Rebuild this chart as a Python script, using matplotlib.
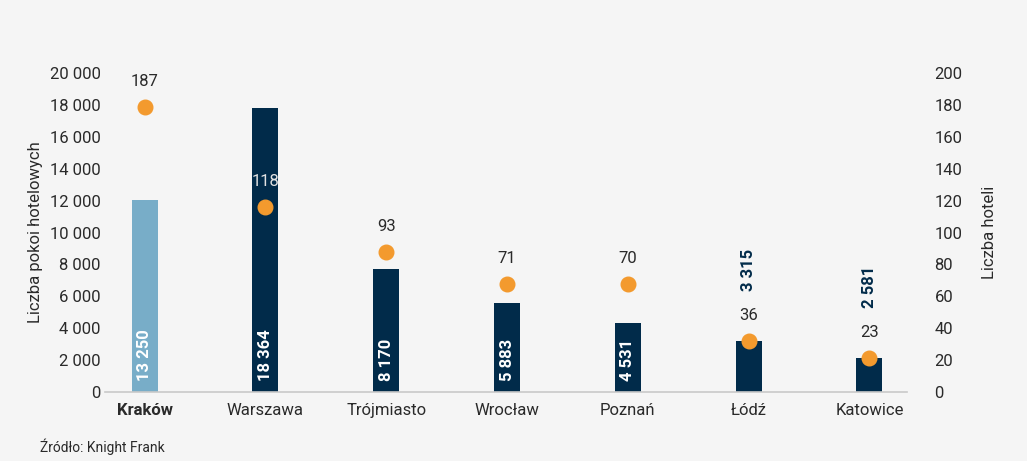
import numpy as np
import matplotlib
matplotlib.use("Agg")
import matplotlib.pyplot as plt
from matplotlib.ticker import FuncFormatter

plt.rcParams["font.family"] = ["Roboto", "DejaVu Sans"]

cities = ["Kraków", "Warszawa", "Trójmiasto", "Wrocław", "Poznań", "Łódź", "Katowice"]
room_bars = [12050, 17800, 7700, 5600, 4330, 3200, 2150]
room_labels = ["13 250", "18 364", "8 170", "5 883", "4 531", "3 315", "2 581"]
hotel_points = [179, 116, 88, 68, 68, 32, 21.5]
hotel_labels = ["187", "118", "93", "71", "70", "36", "23"]

NAVY = "#012b4a"
LIGHT_BLUE = "#78adc8"
ORANGE = "#f39a2e"
BG = "#f5f5f5"
TEXT = "#2a2a2a"

fig = plt.figure(figsize=(10.27, 4.61), dpi=100, facecolor=BG)
ax = fig.add_axes([0.102, 0.1497, 0.781, 0.6919])
ax.set_facecolor("none")
ax2 = ax.twinx()

x = np.arange(len(cities))
colors = [LIGHT_BLUE] + [NAVY] * (len(cities) - 1)
ax.bar(x, room_bars, width=0.215, color=colors, zorder=2)

ax.set_ylim(0, 20000)
ax.set_yticks(np.arange(0, 20001, 2000))
ax.yaxis.set_major_formatter(FuncFormatter(lambda v, _: f"{v:,.0f}".replace(",", " ")))
ax.set_xlim(-0.33, 6.31)
ax.set_xticks(x)
ax.set_xticklabels(cities)
ax.get_xticklabels()[0].set_fontweight("bold")
ax.tick_params(axis="y", length=0, pad=3, labelsize=12, labelcolor=TEXT)
ax.tick_params(axis="x", length=0, pad=8, labelsize=12, labelcolor=TEXT)
ax.set_ylabel("Liczba pokoi hotelowych", fontsize=12, color=TEXT, labelpad=5)

for s in ["top", "left", "right"]:
    ax.spines[s].set_visible(False)
ax.spines["bottom"].set_color("#c9c9c9")
ax.spines["bottom"].set_linewidth(1.2)

# bar value labels: inside the bar when it is tall enough, above it otherwise
for xi, h, lab in zip(x, room_bars, room_labels):
    if h > 3500:
        ax.annotate(lab, (xi, 0), xytext=(0, 8), textcoords="offset points",
                    rotation=90, ha="center", va="bottom", color="white",
                    fontsize=12, fontweight="bold", zorder=3)
    else:
        ax.annotate(lab, (xi, h), xytext=(0, 36), textcoords="offset points",
                    rotation=90, ha="center", va="bottom", color=NAVY,
                    fontsize=12, fontweight="bold", zorder=3)

ax2.set_ylim(0, 200)
ax2.set_yticks(np.arange(0, 201, 20))
ax2.plot(x, hotel_points, linestyle="none", marker="o", markersize=10.5,
         color=ORANGE, zorder=4)
for xi, v, lab in zip(x, hotel_points, hotel_labels):
    col = "#e2e2e2" if lab == "118" else TEXT
    ax2.annotate(lab, (xi, v), xytext=(0, 18), textcoords="offset points",
                 ha="center", va="center", color=col, fontsize=12)
ax2.tick_params(axis="y", length=0, pad=20, labelsize=12, labelcolor=TEXT)
ax2.set_ylabel("Liczba hoteli", fontsize=12, color=TEXT, labelpad=14)
for s in ["top", "left", "right", "bottom"]:
    ax2.spines[s].set_visible(False)

fig.text(0.039, 0.03, "Źródło: Knight Frank", fontsize=10, color=TEXT, va="center")

fig.savefig("out.png", dpi=100, facecolor=BG)
